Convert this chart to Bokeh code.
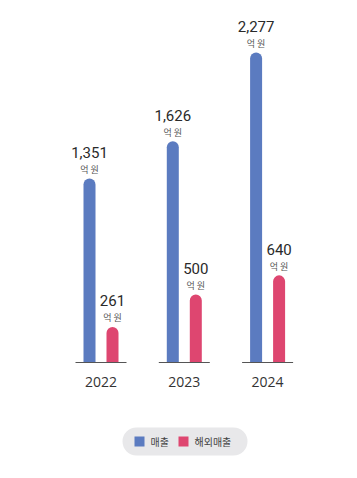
from bokeh.plotting import figure
from bokeh.models import ColumnDataSource, Range1d
from bokeh.core.properties import value
from bokeh.embed import file_html
from bokeh.resources import INLINE

years = ["2022", "2023", "2024"]
sales = [1351, 1626, 2277]
overseas = [261, 500, 640]
unit = "억 원"
series_names = ["매출", "해외매출"]
colors = ["#5b7bc0", "#de4670"]

W, H = 357, 478
# layout helpers (pixel -> data)
base_px = 362.0
px_per_unit = (362.0 - 52.0) / 2277.0
g0_px = 100.5
g_step = 83.3

def xd(px):
    return (px - g0_px) / g_step

def yd(py):
    return (base_px - py) / px_per_unit

p = figure(width=W, height=H, output_backend="svg", toolbar_location=None,
           x_range=Range1d(xd(0), xd(W)), y_range=Range1d(yd(H), yd(0)),
           min_border=0, outline_line_color=None)
p.axis.visible = False
p.grid.visible = False
p.background_fill_color = "white"
p.border_fill_color = "white"

idx = list(range(len(years)))
off = 11.5 / g_step
bw = 12.0 / g_step

src = ColumnDataSource(dict(
    x=idx,
    xs=[i - off for i in idx],
    xo=[i + off for i in idx],
    sales=sales,
    overseas=overseas,
    sales_lbl=[f"{v:,}" for v in sales],
    over_lbl=[f"{v:,}" for v in overseas],
    year=years,
    unit=[unit] * len(years),
    zero=[0] * len(years),
    bl=[i - 25.5 / g_step for i in idx],
    br=[i + 25.5 / g_step for i in idx],
))

p.vbar(x="xs", top="sales", bottom=0, width=bw, source=src, color=colors[0],
       line_color=None, border_radius=(6, 6, 0, 0))
p.vbar(x="xo", top="overseas", bottom=0, width=bw, source=src, color=colors[1],
       line_color=None, border_radius=(6, 6, 0, 0))

p.segment(x0="bl", y0="zero", x1="br", y1="zero", source=src,
          line_color="#555555", line_width=1.2)

num_font = value("Roboto")
for xcol, ycol, lcol in [("xs", "sales", "sales_lbl"), ("xo", "overseas", "over_lbl")]:
    p.text(x=xcol, y=ycol, text=lcol, source=src, text_align="center",
           text_baseline="alphabetic", y_offset=-26, text_font=num_font,
           text_font_size="15px", text_color="#2a2a2a")
    p.text(x=xcol, y=ycol, text="unit", source=src, text_align="center",
           text_baseline="alphabetic", y_offset=-9, text_font=value("Noto Sans CJK KR"),
           text_font_size="9px", text_color="#555555")

p.text(x="x", y="zero", text="year", source=src, text_align="center",
       text_baseline="middle", y_offset=19, text_font=value("Open Sans"),
       text_font_size="14px", text_color="#333333")

# legend pill
p.quad(left=[xd(122)], right=[xd(247)], top=[yd(427)], bottom=[yd(455)],
       fill_color="#e8e8ea", line_color=None, border_radius=14)
p.scatter(x=[xd(139), xd(183)], y=[yd(441), yd(441)], marker="square", size=10,
          color=colors, line_color=None)
p.text(x=[xd(150), xd(194)], y=[yd(441), yd(441)], text=series_names,
       text_baseline="middle", text_align="left", text_font=value("Noto Sans CJK KR"),
       text_font_size="10px", text_color="#444444")

open("out.html", "w").write(file_html(p, INLINE))
